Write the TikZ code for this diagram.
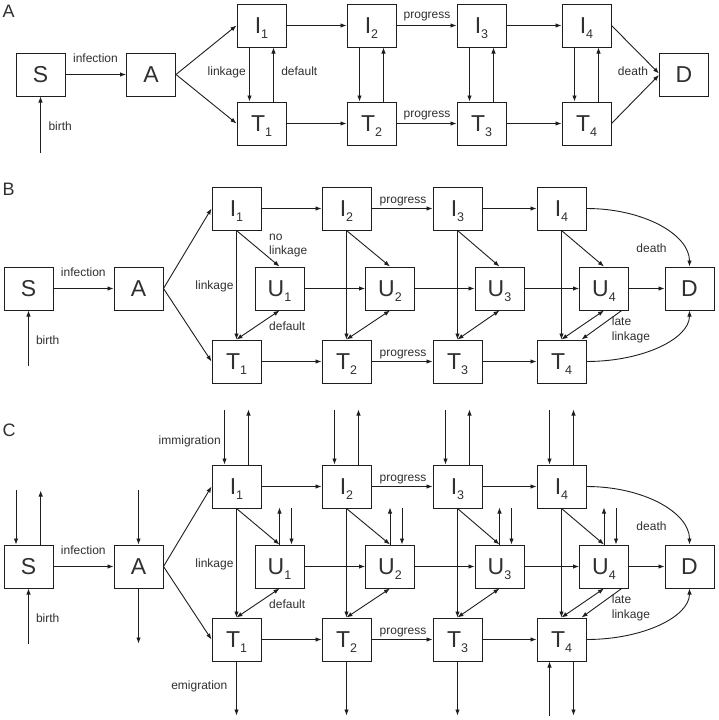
\documentclass[tikz,border=0pt]{standalone}
\usepackage{fontspec}
\setmainfont{Liberation Sans}
\usetikzlibrary{arrows.meta}
\definecolor{ln}{HTML}{1E1E1E}
\definecolor{tx}{HTML}{303030}
\newcommand{\cmp}[2]{#1\raisebox{-5pt}{\fontsize{12.5}{12.5}\selectfont #2}}
\begin{document}
\begin{tikzpicture}[x=1pt,y=-1pt,
  box/.style={draw=ln, line width=1pt, minimum width=49pt, minimum height=43pt, inner sep=0pt,
    font=\fontsize{23}{23}\selectfont, text=tx, text height=16.5pt, text depth=0pt},
  lbl/.style={font=\fontsize{12}{12}\selectfont, text=tx, inner sep=0pt, anchor=base},
  lbw/.style={lbl, anchor=base west},
  panel/.style={font=\fontsize{18}{18}\selectfont, text=tx, inner sep=0pt, anchor=base west},
  arr/.style={draw=ln, line width=0.9pt, -{Latex[length=6pt,width=4.5pt]}},
  rarr/.style={draw=ln, line width=0.9pt, {Latex[length=6pt,width=4.5pt]}-},
  barr/.style={draw=ln, line width=0.9pt, {Latex[length=6pt,width=4.5pt]}-{Latex[length=6pt,width=4.5pt]}}
]
\useasboundingbox[fill=white] (0,0) rectangle (718,720);

% ---------------- Panel A ----------------
\node[panel] (pA) at (2.5,17.5) {A};
\node[box] (SA) at (40.5,74.5) {S};
\node[box] (AA) at (151,74.5) {A};
\node[box] (DA) at (684,74.5) {D};
\foreach \k/\x in {1/261.5,2/371.5,3/481.5,4/586.5}{
  \node[box] (I\k A) at (\x,25.5) {\cmp{I}{\k}};
  \node[box] (T\k A) at (\x,123.5) {\cmp{T}{\k}};
  \draw[arr] ([xshift=-12pt]I\k A.south) -- ([xshift=-12pt]T\k A.north);
  \draw[arr] ([xshift=12pt]T\k A.north) -- ([xshift=12pt]I\k A.south);
}
\foreach \k/\n in {1/2,2/3,3/4}{
  \draw[arr] (I\k A) -- (I\n A);
  \draw[arr] (T\k A) -- (T\n A);
}
\draw[arr] (SA) -- (AA);
\draw[rarr] (SA.south) -- ++(0,56);
\draw[arr] (AA.east) -- (I1A.west);
\draw[arr] (AA.east) -- (T1A.west);
\draw[arr] (I4A.east) -- ([yshift=1pt]DA.west);
\draw[arr] (T4A.east) -- ([yshift=-0.5pt]DA.west);
\node[lbl] (lAinf) at (95.5,62.5) {infection};
\node[lbl] (lAbir) at (60.2,130) {birth};
\node[lbl] (lAlin) at (226.7,75) {linkage};
\node[lbl] (lAdef) at (299.3,75) {default};
\node[lbl] (lApr1) at (427,19) {progress};
\node[lbl] (lApr2) at (427,117.5) {progress};
\node[lbl] (lAdea) at (633,75.5) {death};

% ---------------- Panels B and C ----------------
\foreach \p/\dy in {B/0,C/278}{
  \node[box] (S\p) at (28.5,288.5+\dy) {S};
  \node[box] (A\p) at (138.5,288.5+\dy) {A};
  \node[box] (D\p) at (689.5,288.5+\dy) {D};
  \foreach \k/\x/\u in {1/236.5/279.5,2/346.5/390,3/457.5/499.5,4/561.5/604}{
    \node[box] (I\k\p) at (\x,208.5+\dy) {\cmp{I}{\k}};
    \node[box] (U\k\p) at (\u,288.5+\dy) {\cmp{U}{\k}};
    \node[box] (T\k\p) at (\x,361.5+\dy) {\cmp{T}{\k}};
    \draw[arr] (I\k\p.south) -- (T\k\p.north);
    \draw[arr] (I\k\p.south) -- (U\k\p.north);
    \draw[barr] (T\k\p.north) -- (U\k\p.south);
  }
  \foreach \k/\n in {1/2,2/3,3/4}{
    \draw[arr] (I\k\p) -- (I\n\p);
    \draw[arr] (U\k\p) -- (U\n\p);
    \draw[arr] (T\k\p) -- (T\n\p);
  }
  \draw[arr] (S\p) -- (A\p);
  \draw[rarr] (S\p.south) -- ++(0,55);
  \draw[arr] (A\p.east) -- (I1\p.west);
  \draw[arr] (A\p.east) -- (T1\p.west);
  \draw[arr] (U4\p) -- (D\p);
  \draw[arr] ([xshift=17.7pt]U4\p.south) -- ([xshift=20pt]T4\p.north);
  \draw[arr] (I4\p.east) .. controls +(57,0) and +(0,-32) .. (D\p.north);
  \draw[arr] (T4\p.east) .. controls +(57,0) and +(0,28) .. (D\p.south);
  \node[lbl] (l\p inf) at (83.3,276.7+\dy) {infection};
  \node[lbl] (l\p bir) at (47.7,344+\dy) {birth};
  \node[lbl] (l\p lin) at (214.5,289+\dy) {linkage};
  \node[lbl] (l\p def) at (287.2,330.7+\dy) {default};
  \node[lbl] (l\p pr1) at (403,203.3+\dy) {progress};
  \node[lbl] (l\p pr2) at (403,356.7+\dy) {progress};
  \node[lbl] (l\p dea) at (651.5,252.3+\dy) {death};
  \node[lbw] (l\p lat) at (611.7,325.7+\dy) {late};
  \node[lbw] (l\p ll) at (611.7,340+\dy) {linkage};
}
\node[panel] (pB) at (2.5,195) {B};
\node[panel] (pC) at (2.5,436.5) {C};
\node[lbw] (lBno) at (269,240) {no};
\node[lbw] (lBnl) at (269,254.7) {linkage};

% ---------------- Panel C migration ----------------
\draw[rarr] ([xshift=-12.5pt]SC.north) -- ++(0,-55);
\draw[arr] ([xshift=12.2pt]SC.north) -- ++(0,-54);
\draw[rarr] (AC.north) -- ++(0,-55);
\draw[arr] (AC.south) -- ++(0,55);
\foreach \k in {1,2,3,4}{
  \draw[rarr] ([xshift=-12pt]I\k C.north) -- ++(0,-55);
  \draw[arr] ([xshift=12pt]I\k C.north) -- ++(0,-55);
  \draw[arr] (U\k C.north) -- ++(0,-37);
  \draw[rarr] ([xshift=12pt]U\k C.north) -- ++(0,-37);
}
\foreach \k in {1,2,3}{
  \draw[arr] (T\k C.south) -- ++(0,54);
}
\draw[rarr] ([xshift=-12pt]T4C.south) -- ++(0,54);
\draw[arr] ([xshift=12pt]T4C.south) -- ++(0,54);
\node[lbl] (lCimm) at (189.7,444) {immigration};
\node[lbl] (lCemi) at (199.3,689) {emigration};
\end{tikzpicture}
\end{document}
